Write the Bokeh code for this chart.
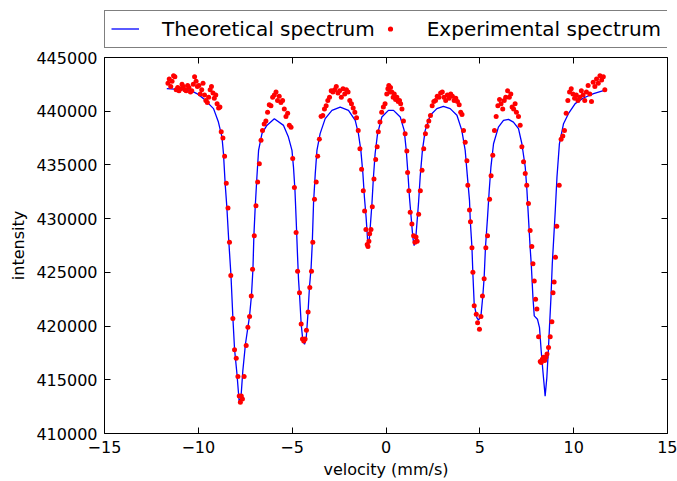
from bokeh.plotting import figure
from bokeh.layouts import column
from bokeh.models import Legend, LegendItem, LinearAxis, FixedTicker, Range1d
from bokeh.embed import file_html
from bokeh.resources import INLINE

FONT = "DejaVu Sans"

# ---- data ----
x_ticks = [-15, -10, -5, 0, 5, 10, 15]
x_tick_labels = ["\u221215", "\u221210", "\u22125", "0", "5", "10", "15"]
y_ticks = [410000, 415000, 420000, 425000, 430000, 435000, 440000, 445000]
y_tick_labels = ["410000", "415000", "420000", "425000", "430000", "435000", "440000", "445000"]

theory_v = [-11.68, -11.06, -10.43, -10.08, -9.72, -9.19, -8.93, -8.74, -8.66, -8.57,
            -8.48, -8.39, -8.26, -8.16, -8.07, -7.94, -7.82, -7.73, -7.63, -7.49,
            -7.27, -7.17, -7.09, -7.04, -6.97, -6.88, -6.79, -6.61, -6.35, -5.95,
            -5.46, -5.20, -5.01, -4.93, -4.85, -4.78, -4.72, -4.66, -4.60, -4.52,
            -4.43, -4.34, -4.25, -4.16, -4.08, -3.99, -3.93, -3.86, -3.77, -3.68,
            -3.51, -3.24, -2.88, -2.44, -2.00, -1.64, -1.47, -1.34, -1.23, -1.15,
            -1.06, -0.99, -0.96, -0.88, -0.75, -0.67, -0.58, -0.45, -0.22, 0.13,
            0.40, 0.76, 0.97, 1.08, 1.17, 1.25, 1.34, 1.43, 1.50, 1.59,
            1.73, 1.82, 1.94, 2.09, 2.36, 2.71, 3.06, 3.42, 3.78, 4.04,
            4.22, 4.34, 4.45, 4.49, 4.58, 4.63, 4.70, 4.84, 4.93, 5.06,
            5.16, 5.23, 5.30, 5.41, 5.50, 5.59, 5.73, 5.99, 6.26, 6.53,
            6.79, 7.06, 7.24, 7.42, 7.51, 7.59, 7.68, 7.74, 7.83, 7.90,
            8.07, 8.18, 8.27, 8.36, 8.48, 8.57, 8.64, 8.71, 8.79, 8.86,
            8.93, 9.02, 9.11, 9.24, 9.46, 9.72, 10.08, 10.52, 11.06, 11.63]
theory_i = [442110, 442040, 441950, 441640, 441170, 440240, 438990, 437590, 436040, 433240,
            431060, 428260, 424680, 420790, 417840, 415510, 412860, 413320, 415820, 418310,
            420950, 422820, 425310, 428420, 431060, 433860, 436350, 437910, 438680, 439300,
            438680, 437590, 436350, 434800, 432600, 429600, 426800, 424300, 422700, 420200,
            418620, 418310, 418920, 421110, 423590, 425460, 427640, 431500, 434170, 436350,
            437910, 439310, 440080, 440390, 440080, 439150, 437910, 436350, 434170, 431990,
            430120, 428260, 427320, 428260, 431370, 433860, 436040, 437910, 439460, 440080,
            440080, 439460, 438220, 436350, 434170, 431990, 430120, 428260, 427480, 428260,
            431370, 433860, 436350, 438220, 439620, 440240, 440460, 440240, 439620, 438220,
            436350, 433860, 431680, 429820, 427320, 424840, 422040, 420790, 420550, 420950,
            422820, 424520, 427320, 430120, 432620, 434790, 436970, 438520, 439150, 439240,
            438990, 438370, 436970, 434790, 432620, 430120, 427320, 425770, 422660, 420950,
            420640, 419860, 417680, 415820, 413480, 415190, 417370, 419860, 422660, 425770,
            427950, 430750, 433860, 436970, 438840, 439770, 440710, 441230, 441640, 441950]

exp_v = [-11.62, -11.55, -11.47, -11.40, -11.32, -11.25, -11.18, -11.10, -11.03, -10.95,
         -10.87, -10.80, -10.72, -10.65, -10.57, -10.50, -10.42, -10.35, -10.27, -10.20,
         -10.12, -10.05, -9.97, -9.90, -9.82, -9.75, -9.67, -9.60, -9.52, -9.45,
         -9.37, -9.30, -9.22, -9.15, -9.07, -9.00, -8.92, -8.85, -8.78, -8.69,
         -8.60, -8.51, -8.42, -8.34, -8.27, -8.16, -8.07, -7.98, -7.89, -7.82,
         -7.76, -7.71, -7.65, -7.56, -7.45, -7.36, -7.27, -7.18, -7.11, -7.02,
         -6.93, -6.84, -6.75, -6.66, -6.58, -6.49, -6.40, -6.31, -6.22, -6.13,
         -6.04, -5.95, -5.86, -5.78, -5.69, -5.60, -5.51, -5.42, -5.33, -5.24,
         -5.15, -5.06, -4.97, -4.88, -4.79, -4.71, -4.61, -4.52, -4.45, -4.38,
         -4.31, -4.24, -4.15, -4.06, -3.97, -3.90, -3.81, -3.72, -3.64, -3.55,
         -3.46, -3.37, -3.28, -3.19, -3.10, -3.01, -2.92, -2.83, -2.74, -2.65,
         -2.56, -2.47, -2.38, -2.29, -2.20, -2.11, -2.02, -1.93, -1.84, -1.75,
         -1.66, -1.57, -1.48, -1.39, -1.30, -1.21, -1.14, -1.07, -1.00, -0.96,
         -0.91, -0.87, -0.80, -0.73, -0.64, -0.55, -0.47, -0.41, -0.32, -0.23,
         -0.14, -0.05, 0.04, 0.10, 0.15, 0.20, 0.24, 0.31, 0.38, 0.44,
         0.51, 0.58, 0.65, 0.72, 0.78, 0.85, 0.93, 1.02, 1.11, 1.15,
         1.22, 1.29, 1.38, 1.47, 1.54, 1.60, 1.66, 1.74, 1.83, 1.92,
         2.01, 2.10, 2.19, 2.28, 2.37, 2.46, 2.55, 2.64, 2.73, 2.82,
         2.91, 3.00, 3.09, 3.18, 3.27, 3.36, 3.45, 3.54, 3.63, 3.72,
         3.81, 3.90, 3.98, 4.05, 4.13, 4.22, 4.31, 4.36, 4.45, 4.50,
         4.58, 4.63, 4.70, 4.81, 4.88, 4.98, 5.06, 5.14, 5.23, 5.32,
         5.41, 5.52, 5.60, 5.69, 5.78, 5.87, 5.96, 6.05, 6.13, 6.22,
         6.30, 6.38, 6.48, 6.57, 6.65, 6.72, 6.80, 6.88, 6.95, 7.06,
         7.15, 7.24, 7.33, 7.42, 7.50, 7.59, 7.68, 7.77, 7.83, 7.90,
         7.97, 8.04, 8.13, 8.22, 8.27, 8.33, 8.39, 8.45, 8.52, 8.58,
         8.66, 8.75, 8.84, 8.90, 8.96, 9.03, 9.10, 9.23, 9.33, 9.42,
         9.51, 9.60, 9.69, 9.78, 9.87, 9.96, 10.05, 10.14, 10.23, 10.32,
         10.41, 10.50, 10.59, 10.68, 10.77, 10.86, 10.95, 11.04, 11.13, 11.22,
         11.31, 11.40, 11.49, 11.58, 11.66]
exp_i = [442600, 443000, 442300, 442800, 443300, 443200, 442000, 442200, 441900, 442100,
         442500, 442300, 442000, 441900, 442400, 442200, 441800, 441900, 442500, 443200,
         442800, 442300, 442400, 441600, 442000, 442600, 441500, 441000, 440800, 441300,
         442000, 442300, 441700, 441200, 441500, 440700, 440300, 440400, 438100, 437500,
         435800, 433300, 431000, 427800, 424700, 420700, 417800, 417000, 415300, 413500,
         412900, 413500, 413200, 415300, 418200, 419900, 420900, 422800, 425300, 428400,
         431200, 433400, 435100, 437300, 438200, 438800, 439100, 439900, 440600, 440500,
         441300, 441500, 441800, 441000, 441400, 440800, 441000, 440200, 439500, 439800,
         438700, 438500, 435600, 432900, 428700, 425100, 423100, 420200, 418800, 418600,
         418800, 419600, 421300, 423600, 425100, 427800, 431800, 433400, 435800, 437400,
         439500, 439600, 440200, 440500, 441000, 441300, 441900, 441800, 442000, 442300,
         441700, 441900, 441300, 442100, 441600, 442000, 441800, 441000, 440700, 440300,
         439900, 439400, 438200, 436500, 434600, 432600, 430700, 429000, 427600, 427400,
         427900, 428600, 429000, 431100, 433700, 435500, 436700, 438100, 439000, 439900,
         440400, 440700, 441600, 442100, 442400, 441800, 442200, 441800, 441300, 441600,
         441100, 441300, 440900, 441000, 440700, 440200, 439100, 437900, 436300, 434300,
         432600, 430600, 429500, 428400, 427800, 428300, 427900, 430400, 432600, 434500,
         436500, 437900, 438600, 439100, 439600, 440500, 440900, 441000, 441400, 441300,
         441700, 441800, 441300, 441000, 441500, 441200, 441600, 441400, 441000, 441200,
         440900, 440600, 439900, 439700, 438200, 437100, 435400, 433100, 430800, 429700,
         427300, 425000, 421900, 421100, 420300, 419700, 420900, 422800, 424400, 427300,
         428400, 431800, 434000, 435900, 438200, 439500, 440500, 441100, 440700, 440200,
         441000, 441300, 441900, 441300, 441600, 440400, 440200, 440700, 439900, 439500,
         438700, 436700, 435300, 434200, 433100, 431400, 428900, 427400, 425800, 424200,
         422500, 421600, 419000, 416700, 416600, 416900, 417100, 416800, 417100, 417400,
         418000, 419000, 420400, 423100, 424100, 426400, 429300, 433100, 437400, 437700,
         438200, 439800, 441000, 441800, 442100, 441600, 441200, 441500, 441000, 441300,
         441900, 441500, 441000, 441800, 442400, 441600, 440900, 442700, 442300, 443000,
         442600, 443300, 442900, 443200, 442000]

# ---- legend strip (separate figure above the plot; its frame aligns with the plot frame) ----
lf = figure(width=677, height=48, output_backend="svg", toolbar_location=None,
            x_axis_type=None, y_axis_type=None, x_range=Range1d(0, 1), y_range=Range1d(0, 1),
            min_border=0)
lf.outline_line_color = None
lf.xgrid.grid_line_color = None
lf.ygrid.grid_line_color = None
lf.background_fill_color = "white"
lf.border_fill_color = "white"
# legend-only proxies: their single points lie outside this strip's ranges, so only
# the legend swatches are drawn
leg_line = lf.line(x=[5, 6], y=[5, 6], line_color="blue", line_width=1.3)
leg_dot = lf.scatter(x=[5], y=[5], size=5, fill_color="red", line_color="white", line_width=4)
leg = Legend(items=[LegendItem(label="Theoretical spectrum", renderers=[leg_line]),
                    LegendItem(label="Experimental spectrum", renderers=[leg_dot])],
             location=(0, 0.5), orientation="horizontal", padding=6, margin=0, spacing=1,
             glyph_width=28, glyph_height=23, label_standoff=23,
             label_text_font=FONT, label_text_font_size="20px", label_text_color="black",
             border_line_color="black", border_line_width=1,
             background_fill_color="white", background_fill_alpha=1.0)
lf.add_layout(leg)

# ---- main plot ----
p = figure(width=677, height=433, output_backend="svg", toolbar_location=None,
           x_range=Range1d(-15, 15), y_range=Range1d(410000, 445000),
           min_border_left=104, min_border_right=10, min_border_top=9, min_border_bottom=48)
p.background_fill_color = "white"
p.border_fill_color = "white"
p.outline_line_color = "black"
p.outline_line_width = 1
p.xgrid.grid_line_color = None
p.ygrid.grid_line_color = None

xa = p.xaxis[0]
ya = p.yaxis[0]
xa.ticker = FixedTicker(ticks=x_ticks)
xa.major_label_overrides = dict(zip(x_ticks, x_tick_labels))
ya.ticker = FixedTicker(ticks=y_ticks)
ya.major_label_overrides = dict(zip(y_ticks, y_tick_labels))
xa.axis_label = "velocity (mm/s)"
ya.axis_label = "intensity"
for ax in (xa, ya):
    ax.axis_line_color = None
    ax.major_tick_in = 6
    ax.major_tick_out = 0
    ax.major_tick_line_color = "black"
    ax.minor_tick_line_color = None
    ax.major_label_text_font = FONT
    ax.major_label_text_font_size = "16px"
    ax.major_label_text_color = "black"
    ax.axis_label_text_font = FONT
    ax.axis_label_text_font_size = "16px"
    ax.axis_label_text_font_style = "normal"
    ax.axis_label_text_color = "black"
xa.major_label_standoff = 7
xa.axis_label_standoff = 4
ya.major_label_standoff = 7
ya.axis_label_standoff = 5

# tick-only axes on the right and top (matplotlib classic look)
for loc, ticks in (("right", y_ticks), ("above", x_ticks)):
    ax = LinearAxis(ticker=FixedTicker(ticks=ticks))
    ax.axis_line_color = None
    ax.major_tick_in = 6
    ax.major_tick_out = 0
    ax.major_tick_line_color = "black"
    ax.minor_tick_line_color = None
    ax.major_label_text_font_size = "1px"
    ax.major_label_text_color = None
    ax.major_label_text_alpha = 0
    ax.major_label_standoff = 0
    ax.axis_label_standoff = 0
    p.add_layout(ax, loc)

p.line(theory_v, theory_i, line_color="blue", line_width=1.3)
p.scatter(exp_v, exp_i, size=5, fill_color="red", line_color=None)

open("out.html", "w").write(file_html(column(lf, p), INLINE))
